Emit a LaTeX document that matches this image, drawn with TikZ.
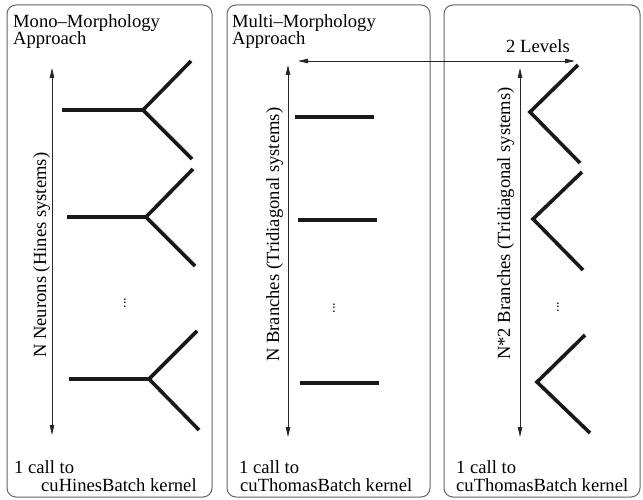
\documentclass[tikz,border=0pt]{standalone}
\usepackage{fontspec}
\setmainfont{LiberationSerif}[Extension=.ttf, UprightFont=*-Regular, BoldFont=*-Bold, ItalicFont=*-Italic]
\usetikzlibrary{arrows.meta}
\begin{document}
\begin{tikzpicture}[x=1pt,y=-1pt,
  panel/.style={draw=black!60, line width=1pt, rounded corners=9pt},
  limb/.style={line width=3.6pt, draw=black!90},
  span/.style={line width=0.8pt, draw=black!85,
    {Triangle[length=10pt,width=4.5pt]}-{Triangle[length=10pt,width=4.5pt]}},
  lbl/.style={font=\fontsize{18.6}{18.6}\selectfont, inner sep=0pt, anchor=base west},
  vlbl/.style={lbl, rotate=90},
  dotsnode/.style={font=\fontsize{14}{14}\selectfont, rotate=90, inner sep=0pt}]
\useasboundingbox (0,0) rectangle (643,500);

% three rounded panels
\draw[panel] (7,5) rectangle (212,497);
\draw[panel] (227,5) rectangle (430,497);
\draw[panel] (444,5) rectangle (640,497);

% panel titles
\node[lbl] (t1a) at (13,28) {Mono–Morphology};
\node[lbl] (t1b) at (13,45) {Approach};
\node[lbl] (t2a) at (232,28) {Multi–Morphology};
\node[lbl] (t2b) at (232,45) {Approach};

% kernel calls
\node[lbl] (k1a) at (14,473) {1 call to};
\node[lbl] (k1b) at (41,491) {cuHinesBatch kernel};
\node[lbl] (k2a) at (239,473) {1 call to};
\node[lbl] (k2b) at (240,491) {cuThomasBatch kernel};
\node[lbl] (k3a) at (456,473) {1 call to};
\node[lbl] (k3b) at (456,491) {cuThomasBatch kernel};

% vertical extent arrows
\coordinate (a1t) at (52,68);  \coordinate (a1b) at (52,435);
\coordinate (a2t) at (288,65); \coordinate (a2b) at (288,437);
\coordinate (a3t) at (520,68); \coordinate (a3b) at (520,437);
\draw[span] (a1t) -- (a1b);
\draw[span] (a2t) -- (a2b);
\draw[span] (a3t) -- (a3b);

\node[vlbl] (l1) at (46,358) {N Neurons (Hines systems)};
\node[vlbl] (l2) at (279,362) {N Branches (Tridiagonal systems)};
\node[vlbl] (l3) at (510,360) {N*2 Branches (Tridiagonal systems)};

% levels arrow
\coordinate (lvL) at (298,61); \coordinate (lvR) at (575,61);
\draw[span] (lvL) -- (lvR);
\node[lbl] (lv) at (506,53) {2 Levels};

% whole neurons (mono-morphology)
\coordinate (y1s) at (62,110);  \coordinate (y1j) at (143,110);
\coordinate (y1u) at (191,61);  \coordinate (y1d) at (192,159);
\coordinate (y2s) at (67,217);  \coordinate (y2j) at (146,217);
\coordinate (y2u) at (193,169); \coordinate (y2d) at (195,266);
\coordinate (y3s) at (69,379);  \coordinate (y3j) at (149,379);
\coordinate (y3u) at (197,331); \coordinate (y3d) at (199,430);
\foreach \n in {1,2,3}{
  \draw[limb] (y\n s) -- (y\n j);
  \draw[limb] (y\n u) -- (y\n j) -- (y\n d);
}

% single branches
\coordinate (b1a) at (295,117); \coordinate (b1b) at (374,117);
\coordinate (b2a) at (298,220); \coordinate (b2b) at (377,220);
\coordinate (b3a) at (300,383); \coordinate (b3b) at (379,383);
\foreach \n in {1,2,3}{
  \draw[limb] (b\n a) -- (b\n b);
}

% branch pairs (two levels)
\coordinate (v1u) at (578,65);  \coordinate (v1v) at (530,112); \coordinate (v1d) at (580,163);
\coordinate (v2u) at (582,172); \coordinate (v2v) at (533,219); \coordinate (v2d) at (583,270);
\coordinate (v3u) at (585,335); \coordinate (v3v) at (537,382); \coordinate (v3d) at (590,433);
\foreach \n in {1,2,3}{
  \draw[limb] (v\n u) -- (v\n v) -- (v\n d);
}

% ellipses
\node[dotsnode] (d1) at (125,303) {...};
\node[dotsnode] (d2) at (334,308) {...};
\node[dotsnode] (d3) at (558,307) {...};
\end{tikzpicture}
\end{document}
